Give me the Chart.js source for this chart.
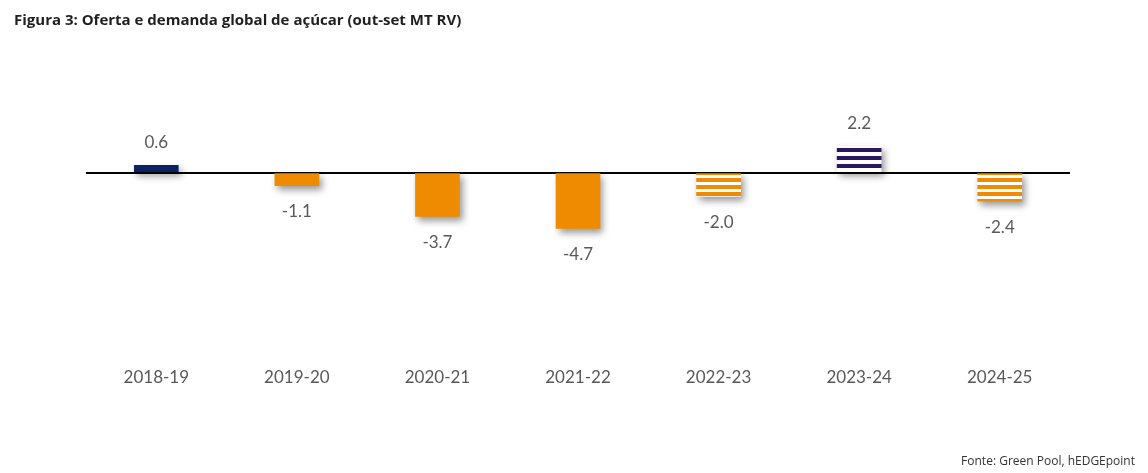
<!DOCTYPE html>
<html>
<head>
<meta charset="utf-8">
<script src="https://cdn.jsdelivr.net/npm/chart.js@4/dist/chart.umd.min.js"></script>
<style>
  html, body { margin: 0; padding: 0; background: #ffffff; }
  #wrap { position: relative; width: 1148px; height: 473px; overflow: hidden; }
  #titulo { position: absolute; left: 14px; top: 9px; font: bold 15px "Open Sans", sans-serif; color: #1f1f1f; white-space: nowrap; }
  #fonte { position: absolute; right: 13px; top: 452px; font: 12px "Open Sans", sans-serif; color: #333333; white-space: nowrap; }
  #grafico { position: absolute; left: 0; top: 0; }
</style>
</head>
<body>
<div id="wrap">
  <canvas id="grafico" width="1148" height="473"></canvas>
  <div id="titulo">Figura 3: Oferta e demanda global de açúcar (out-set MT RV)</div>
  <div id="fonte">Fonte: Green Pool, hEDGEpoint</div>
</div>
<script>
const safras = ['2018-19', '2019-20', '2020-21', '2021-22', '2022-23', '2023-24', '2024-25'];
const saldo = [0.6, -1.1, -3.7, -4.7, -2.0, 2.2, -2.4];
const projecao = [false, false, false, false, true, true, true]; // barras listradas

const AZUL = '#0c2163';
const LARANJA = '#ee8b00';
const ROXO = '#2a1760';

// cria um padrão de listras horizontais (branco + cor)
function listras(ctx, cor, altura, faixa) {
    const c = document.createElement('canvas');
    c.width = 4; c.height = altura;
    const g = c.getContext('2d');
    g.fillStyle = '#ffffff';
    g.fillRect(0, 0, 4, altura);
    g.fillStyle = cor;
    g.fillRect(0, altura - faixa, 4, faixa);
    return ctx.createPattern(c, 'repeat');
}

document.addEventListener('DOMContentLoaded', function () {
    const ctx = document.getElementById('grafico').getContext('2d');
    const padraoLaranja = listras(ctx, LARANJA, 7, 4);
    const padraoRoxo = listras(ctx, ROXO, 8, 4);

    const cores = saldo.map(function (v, i) {
        if (projecao[i]) return v >= 0 ? padraoRoxo : padraoLaranja;
        return v >= 0 ? AZUL : LARANJA;
    });

    // sombra das barras
    const sombra = {
        id: 'sombra',
        beforeDatasetsDraw(chart) {
            const c = chart.ctx;
            c.save();
            c.shadowColor = 'rgba(0,0,0,0.4)';
            c.shadowBlur = 7;
            c.shadowOffsetX = 3;
            c.shadowOffsetY = 4;
        },
        afterDatasetsDraw(chart) {
            chart.ctx.restore();
        }
    };

    // rótulos de valor
    const rotulos = {
        id: 'rotulos',
        afterDatasetsDraw(chart) {
            const c = chart.ctx;
            const meta = chart.getDatasetMeta(0);
            c.save();
            c.font = '17px Lato, sans-serif';
            c.fillStyle = '#595959';
            c.textAlign = 'center';
            c.textBaseline = 'middle';
            meta.data.forEach(function (bar, i) {
                const v = saldo[i];
                const y = v >= 0 ? bar.y - 23 : bar.y + 26;
                c.fillText(v.toFixed(1), bar.x, y);
            });
            c.restore();
        }
    };

    new Chart(ctx, {
        type: 'bar',
        data: {
            labels: safras,
            datasets: [{
                data: saldo,
                backgroundColor: cores,
                borderWidth: 0,
                barThickness: 44
            }]
        },
        options: {
            responsive: false,
            animation: false,
            layout: { padding: { left: 86, right: 78, top: 42, bottom: 68 } },
            plugins: {
                legend: { display: false },
                tooltip: { enabled: false }
            },
            scales: {
                x: {
                    grid: { display: false, drawTicks: false },
                    border: { display: false },
                    ticks: { color: '#595959', font: { family: 'Lato', size: 17 }, padding: 17 }
                },
                y: {
                    min: -15,
                    max: 11,
                    ticks: { display: false, stepSize: 1 },
                    border: { display: false },
                    grid: {
                        drawTicks: false,
                        color: function (c) { return c.tick.value === 0 ? '#000000' : 'rgba(0,0,0,0)'; },
                        lineWidth: 2
                    }
                }
            }
        },
        plugins: [sombra, rotulos]
    });
});
</script>
</body>
</html>
